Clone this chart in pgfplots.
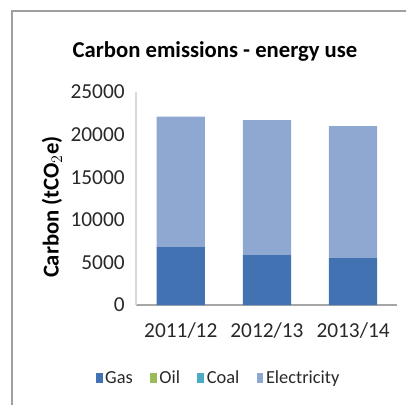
\documentclass[border=0pt]{standalone}
\usepackage{pgfplots}
\pgfplotsset{compat=1.18}
\usepackage{fontspec}
\setmainfont{Carlito}
\definecolor{gasc}{RGB}{66,114,178}
\definecolor{oilc}{RGB}{155,187,89}
\definecolor{coalc}{RGB}{75,172,198}
\definecolor{elec}{RGB}{143,168,210}
\definecolor{txt}{RGB}{40,40,40}
\begin{document}
\begin{tikzpicture}
\path[use as bounding box] (0pt,0pt) rectangle (304.5pt,303.75pt);
\draw[gray!75, line width=0.9pt] (9pt,0pt) -- (9pt,295.5pt) -- (304.5pt,295.5pt);
\node[font=\fontsize{17}{19}\selectfont\bfseries, text=black] at (161.25pt,265pt) {Carbon emissions - energy use};
\begin{axis}[
  at={(102pt,75pt)}, anchor=south west,
  scale only axis, width=195.75pt, height=159.75pt,
  ybar stacked, bar width=0.56,
  xmin=-0.52, xmax=2.51, ymin=0, ymax=25000,
  xtick=data, xticklabels={2011/12,2012/13,2013/14},
  ytick={0,5000,10000,15000,20000,25000},
  scaled y ticks=false,
  /pgf/number format/assume math mode=true,
  /pgf/number format/1000 sep={},
  axis x line*=bottom, axis y line*=left,
  x axis line style={draw=gray!70, line width=0.8pt, -},
  y axis line style={draw=gray!30, line width=0.8pt, -},
  major tick length=0pt,
  tick label style={font=\fontsize{16}{18}\selectfont, text=txt},
  yticklabel style={xshift=-5pt},
  xticklabel style={yshift=-10pt},
  ylabel={Carbon (tCO$_2$e)},
  every axis y label/.style={font=\fontsize{17}{19}\selectfont\bfseries, at={(axis description cs:-0.322,0.46)}, anchor=center, rotate=90},
  legend columns=-1,
  legend style={draw=none, fill=none, at={(axis description cs:0.318,-0.343)}, anchor=center,
     font=\fontsize{13.8}{15}\selectfont, text=txt,
     /tikz/every even column/.append style={column sep=11pt},
     /tikz/every odd column/.append style={column sep=0pt}},
  legend image code/.code={\fill[#1] (0pt,-4pt) rectangle (5pt,4pt);},
]
\addplot[fill=gasc, draw=none] coordinates {(0,6800) (1,5900) (2,5500)};
\addplot[fill=oilc, draw=none] coordinates {(0,0) (1,0) (2,0)};
\addplot[fill=coalc, draw=none] coordinates {(0,0) (1,0) (2,0)};
\addplot[fill=elec, draw=none] coordinates {(0,15300) (1,15800) (2,15500)};
\legend{Gas,Oil,Coal,Electricity}
\end{axis}
\end{tikzpicture}
\end{document}
